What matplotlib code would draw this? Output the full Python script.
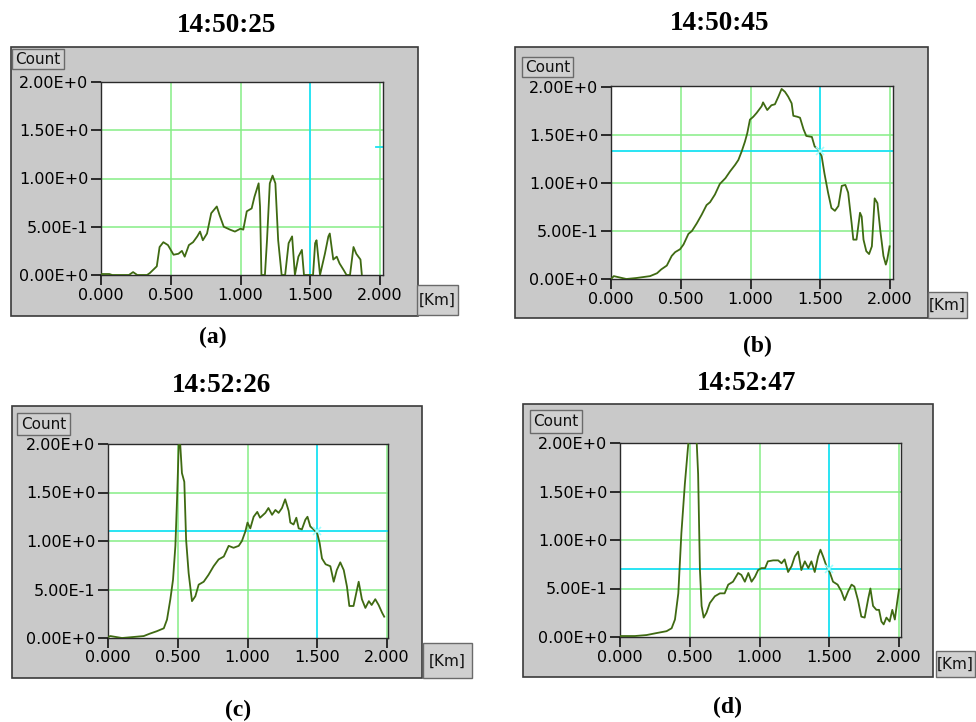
import matplotlib
matplotlib.use("Agg")
import matplotlib.pyplot as plt
from matplotlib.patches import Rectangle

W, H = 976, 722

# ---- data: range profiles (distance in km, count) ----
dist_a = [0.0, 0.06, 0.08, 0.2, 0.23, 0.26, 0.33, 0.35, 0.40, 0.42, 0.447, 0.48, 0.52, 0.555, 0.58,
          0.60, 0.63, 0.66, 0.69, 0.71, 0.73, 0.76, 0.79, 0.83, 0.85, 0.88, 0.925, 0.96, 1.0, 1.02,
          1.045, 1.08, 1.10, 1.13, 1.14, 1.15, 1.175, 1.19, 1.21, 1.23, 1.25, 1.27, 1.295, 1.32,
          1.345, 1.37, 1.39, 1.415, 1.44, 1.455, 1.475, 1.52, 1.535, 1.545, 1.57, 1.605, 1.63,
          1.64, 1.665, 1.69, 1.71, 1.74, 1.76, 1.785, 1.81, 1.83, 1.86, 1.87]
count_a = [0.01, 0.01, 0.0, 0.0, 0.03, 0.0, 0.0, 0.02, 0.09, 0.29, 0.34, 0.31, 0.21, 0.22, 0.25,
           0.19, 0.31, 0.34, 0.40, 0.45, 0.36, 0.43, 0.64, 0.71, 0.62, 0.50, 0.47, 0.45, 0.48, 0.47,
           0.66, 0.69, 0.81, 0.95, 0.71, 0.0, 0.0, 0.36, 0.95, 1.03, 0.95, 0.36, 0.0, 0.0,
           0.33, 0.40, 0.0, 0.19, 0.26, 0.0, 0.0, 0.0, 0.33, 0.36, 0.0, 0.22, 0.40,
           0.43, 0.16, 0.19, 0.12, 0.05, 0.0, 0.0, 0.29, 0.22, 0.16, 0.0]

dist_b = [0.0, 0.02, 0.11, 0.18, 0.28, 0.33, 0.36, 0.40, 0.435, 0.46, 0.495, 0.52, 0.555, 0.58,
          0.615, 0.65, 0.685, 0.71, 0.745, 0.78, 0.82, 0.853, 0.89, 0.913, 0.937, 0.96, 0.977,
          0.996, 1.02, 1.044, 1.08, 1.09, 1.12, 1.15, 1.175, 1.20, 1.223, 1.247, 1.27, 1.295,
          1.307, 1.336, 1.355, 1.38, 1.40, 1.44, 1.46, 1.486, 1.51, 1.53, 1.556, 1.58, 1.605,
          1.63, 1.654, 1.68, 1.70, 1.725, 1.737, 1.76, 1.785, 1.797, 1.81, 1.83, 1.85, 1.87,
          1.89, 1.91, 1.93, 1.953, 1.97, 1.98, 1.997]
count_b = [0.0, 0.03, 0.0, 0.01, 0.03, 0.06, 0.10, 0.14, 0.24, 0.28, 0.31, 0.36, 0.47, 0.50,
           0.58, 0.67, 0.77, 0.80, 0.88, 0.99, 1.05, 1.12, 1.19, 1.24, 1.33, 1.43, 1.52,
           1.66, 1.69, 1.73, 1.80, 1.84, 1.76, 1.81, 1.82, 1.90, 1.98, 1.95, 1.90, 1.83,
           1.70, 1.69, 1.68, 1.56, 1.49, 1.48, 1.38, 1.35, 1.28, 1.10, 0.90, 0.74, 0.71,
           0.76, 0.97, 0.98, 0.90, 0.58, 0.41, 0.41, 0.69, 0.65, 0.41, 0.29, 0.26, 0.34,
           0.84, 0.79, 0.51, 0.24, 0.15, 0.20, 0.34]

dist_c = [0.0, 0.017, 0.10, 0.18, 0.256, 0.30, 0.35, 0.40, 0.423, 0.447, 0.466, 0.483, 0.495,
          0.507, 0.518, 0.53, 0.547, 0.56, 0.578, 0.602, 0.626, 0.65, 0.686, 0.72, 0.757, 0.793,
          0.83, 0.865, 0.90, 0.937, 0.96, 0.985, 1.0, 1.02, 1.044, 1.07, 1.09, 1.128, 1.15,
          1.176, 1.20, 1.223, 1.247, 1.27, 1.295, 1.307, 1.33, 1.35, 1.367, 1.39, 1.415, 1.43,
          1.45, 1.474, 1.50, 1.517, 1.534, 1.56, 1.594, 1.618, 1.64, 1.665, 1.69, 1.713, 1.73,
          1.76, 1.785, 1.797, 1.82, 1.845, 1.87, 1.89, 1.916, 1.94, 1.965, 1.98]
count_c = [0.01, 0.02, 0.0, 0.01, 0.02, 0.045, 0.07, 0.10, 0.19, 0.40, 0.60, 0.95, 1.43,
           1.99, 1.99, 1.70, 1.61, 1.01, 0.67, 0.38, 0.43, 0.55, 0.58, 0.65, 0.74, 0.81,
           0.84, 0.95, 0.93, 0.95, 1.00, 1.10, 1.19, 1.13, 1.25, 1.30, 1.24, 1.29, 1.34,
           1.27, 1.32, 1.29, 1.34, 1.43, 1.31, 1.19, 1.17, 1.24, 1.13, 1.12, 1.22, 1.25,
           1.15, 1.12, 1.08, 0.98, 0.82, 0.76, 0.74, 0.58, 0.70, 0.78, 0.70, 0.53, 0.33,
           0.33, 0.50, 0.58, 0.40, 0.31, 0.38, 0.34, 0.40, 0.34, 0.26, 0.22]

dist_d = [0.0, 0.107, 0.19, 0.26, 0.334, 0.37, 0.394, 0.418, 0.44, 0.465, 0.49, 0.50, 0.54,
          0.55, 0.56, 0.573, 0.585, 0.60, 0.62, 0.644, 0.68, 0.716, 0.75, 0.776, 0.81, 0.847,
          0.87, 0.895, 0.92, 0.943, 0.967, 0.99, 1.014, 1.04, 1.06, 1.098, 1.134, 1.158, 1.18,
          1.205, 1.23, 1.253, 1.277, 1.30, 1.325, 1.35, 1.372, 1.396, 1.42, 1.437, 1.456, 1.48,
          1.503, 1.527, 1.56, 1.587, 1.61, 1.635, 1.66, 1.68, 1.706, 1.73, 1.754, 1.78, 1.795,
          1.814, 1.838, 1.857, 1.874, 1.89, 1.91, 1.933, 1.952, 1.97, 1.986, 2.0]
count_d = [0.01, 0.01, 0.02, 0.04, 0.06, 0.09, 0.18, 0.45, 1.07, 1.58, 2.0, 2.35, 2.35,
           2.0, 1.68, 0.69, 0.32, 0.20, 0.25, 0.35, 0.42, 0.45, 0.45, 0.54, 0.57, 0.66,
           0.64, 0.57, 0.66, 0.57, 0.62, 0.69, 0.71, 0.71, 0.78, 0.79, 0.79, 0.76, 0.80,
           0.67, 0.73, 0.83, 0.88, 0.69, 0.78, 0.71, 0.78, 0.67, 0.83, 0.90, 0.83, 0.73,
           0.67, 0.57, 0.54, 0.47, 0.38, 0.47, 0.54, 0.52, 0.38, 0.21, 0.20, 0.40, 0.50,
           0.32, 0.28, 0.28, 0.16, 0.13, 0.20, 0.16, 0.28, 0.18, 0.35, 0.49]

titles = ["14:50:25", "14:50:45", "14:52:26", "14:52:47"]
captions = ["(a)", "(b)", "(c)", "(d)"]
cursor_x = 1.5
cursor_y = [1.33, 1.336, 1.106, 0.70]

x_ticks = [0.0, 0.5, 1.0, 1.5, 2.0]
x_labels = ["0.000", "0.500", "1.000", "1.500", "2.000"]
y_ticks = [0.0, 0.5, 1.0, 1.5, 2.0]
y_labels = ["0.00E+0", "5.00E-1", "1.00E+0", "1.50E+0", "2.00E+0"]

# layout in pixels: gray panel, plot box (l, t, r, b), x=2 pixel, y=2 pixel, Count box, Km box
layout = [
    dict(panel=(11, 47, 418, 316), plot=(101, 82, 383, 275), x2=380, y2=82,
         count=(12, 49, 64, 69), km=(417, 285, 458, 315),
         title=(227, 26), cap=(213, 337)),
    dict(panel=(515, 47, 928, 318), plot=(611, 86, 893, 279), x2=890, y2=87,
         count=(522, 57, 573, 77), km=(928, 292, 967, 318),
         title=(720, 23), cap=(757, 346)),
    dict(panel=(12, 406, 422, 678), plot=(108, 444, 388, 638), x2=387, y2=444,
         count=(17, 413, 70, 435), km=(423, 643, 472, 678),
         title=(222, 385), cap=(238, 710)),
    dict(panel=(523, 404, 933, 677), plot=(620, 443, 901, 637), x2=899, y2=443,
         count=(530, 410, 582, 433), km=(936, 651, 975, 677),
         title=(747, 383), cap=(727, 707)),
]
series = [(dist_a, count_a), (dist_b, count_b), (dist_c, count_c), (dist_d, count_d)]

GRAY = "#c9c9c9"
GRID = "#86ee86"
CURSOR = "#18e2f2"
LINE = "#3f6a12"
UI_FONT = "DejaVu Sans"

fig = plt.figure(figsize=(W / 100, H / 100), dpi=100)
bg = fig.add_axes([0, 0, 1, 1])
bg.set_xlim(0, W)
bg.set_ylim(H, 0)
bg.axis("off")


def button(ax, box, text, size=11):
    l, t, r, b = box
    ax.add_patch(Rectangle((l, t), r - l, b - t, facecolor="#d0d0d0",
                           edgecolor="#6a6a6a", lw=1.0))
    ax.text((l + r) / 2, (t + b) / 2 + 0.5, text, ha="center", va="center",
            fontsize=size, family=UI_FONT, color="#111111")


for i, lay in enumerate(layout):
    l, t, r, b = lay["panel"]
    bg.add_patch(Rectangle((l, t), r - l, b - t, facecolor=GRAY,
                           edgecolor="#3a3a3a", lw=1.2))
    bg.text(*lay["title"], titles[i], ha="center", va="center", fontsize=19.5,
            family="Liberation Serif", weight="bold")
    bg.text(*lay["cap"], captions[i], ha="center", va="center", fontsize=17,
            family="Liberation Serif", weight="bold")
    button(bg, lay["count"], "Count")
    button(bg, lay["km"], "[Km]")

    pl, pt, pr, pb = lay["plot"]
    ax = fig.add_axes([pl / W, 1 - pb / H, (pr - pl) / W, (pb - pt) / H])
    ax.set_facecolor("white")
    ax.set_xlim(0, 2 * (pr - pl) / (lay["x2"] - pl))
    ax.set_ylim(0, 2 * (pb - pt) / (pb - lay["y2"]))

    for gx in [0.5, 1.0, 2.0]:
        ax.axvline(gx, color=GRID, lw=1.1, zorder=1)
    for gy in [0.5, 1.0, 1.5]:
        ax.axhline(gy, color=GRID, lw=1.1, zorder=1)

    xs, ys = series[i]
    ax.plot(xs, ys, color=LINE, lw=1.3, zorder=3)

    ax.axvline(cursor_x, color=CURSOR, lw=1.3, zorder=2)
    if i == 0:
        # horizontal cursor only peeks in at the right edge here
        ax.plot([1.97, 2.02], [cursor_y[i]] * 2, color=CURSOR, lw=1.3, zorder=2)
    else:
        ax.axhline(cursor_y[i], color=CURSOR, lw=1.3, zorder=2)
        ax.plot([cursor_x], [cursor_y[i]], marker="x", ms=6, mew=1.2,
                color="#a0ffff", zorder=4)

    ax.set_xticks(x_ticks)
    ax.set_xticklabels(x_labels)
    ax.set_yticks(y_ticks)
    ax.set_yticklabels(y_labels)
    ax.tick_params(direction="out", length=7, width=1.1, colors="black",
                   labelsize=11.5, pad=2)
    for lab in ax.get_xticklabels() + ax.get_yticklabels():
        lab.set_family(UI_FONT)
    for sp in ax.spines.values():
        sp.set_color("#2a2a2a")
        sp.set_linewidth(1.0)

fig.savefig("out.png", dpi=100, facecolor="white")
